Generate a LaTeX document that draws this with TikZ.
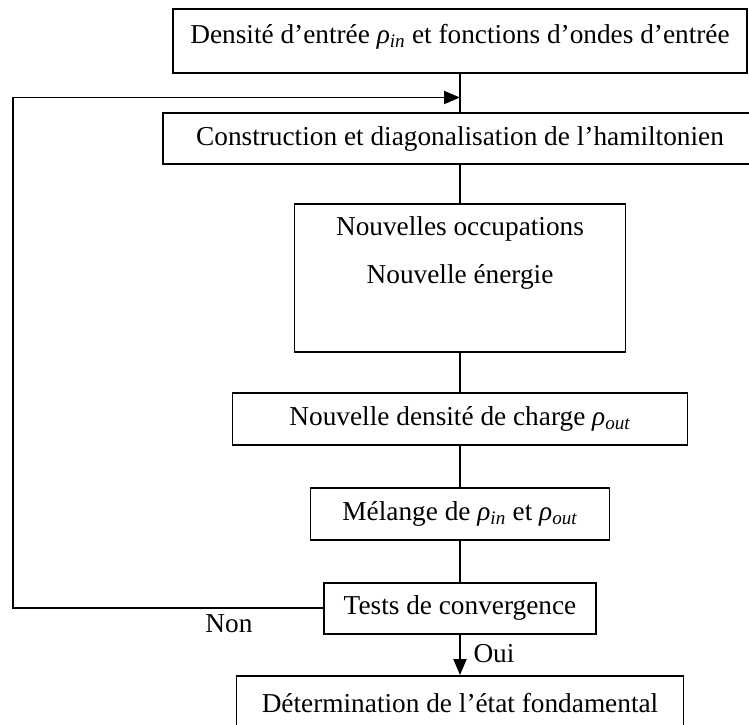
\documentclass[tikz,border=0pt]{standalone}
\usepackage{fontspec}
\setmainfont{Liberation Serif}
\usepackage{tikz}
\usetikzlibrary{arrows.meta,positioning,calc}

\newcommand{\rhoin}{\textit{ρ}\textsubscript{\textit{in}}}
\newcommand{\rhoout}{\textit{ρ}\textsubscript{\textit{out}}}

\begin{document}
\begin{tikzpicture}[x=1pt, y=-1pt, line width=1.9pt,
    boite/.style={draw, rectangle, inner sep=0pt},
    fleche/.style={-{Triangle[length=16pt,width=13pt]}},
    every node/.style={font=\fontsize{27.3}{32}\selectfont}]
    \useasboundingbox (0,0) rectangle (749,724);

    \node[boite, minimum width=574pt, minimum height=64pt, text depth=15pt] (densin) at (460,41.3) {Densité d’entrée \rhoin{} et fonctions d’ondes d’entrée};
    \node[boite, minimum width=594pt, minimum height=51pt] (constr) at (460,138.5) {Construction et diagonalisation de l’hamiltonien};
    \node[boite, minimum width=331pt, minimum height=148pt] (nouv) at (460,278) {};
    \node[align=center, font=\fontsize{27.3}{48}\selectfont] (nouvtxt) at (460,253) {Nouvelles occupations\\Nouvelle énergie};
    \node[boite, minimum width=455pt, minimum height=52pt] (dens) at (460,419) {Nouvelle densité de charge \rhoout};
    \node[boite, minimum width=299pt, minimum height=52pt] (melange) at (460,514) {Mélange de \rhoin{} et \rhoout};
    \node[boite, minimum width=272pt, minimum height=51.5pt] (tests) at (460,608.3) {Tests de convergence};
    \node[boite, minimum width=447pt, minimum height=55pt] (final) at (460,703.5) {Détermination de l’état fondamental};

    \node (non) at (229,624) {Non};
    \node (oui) at (494,654) {Oui};

    \coordinate (coin) at (13,97.5);
    \coordinate (entree) at (460,97.5);

    \draw (densin) -- (constr);
    \draw (constr) -- (nouv);
    \draw (nouv) -- (dens);
    \draw (dens) -- (melange);
    \draw (melange) -- (tests);
    \draw[fleche] (tests) -- (final);
    \draw[fleche] (tests.west) -| (coin) -- (entree);
\end{tikzpicture}
\end{document}
